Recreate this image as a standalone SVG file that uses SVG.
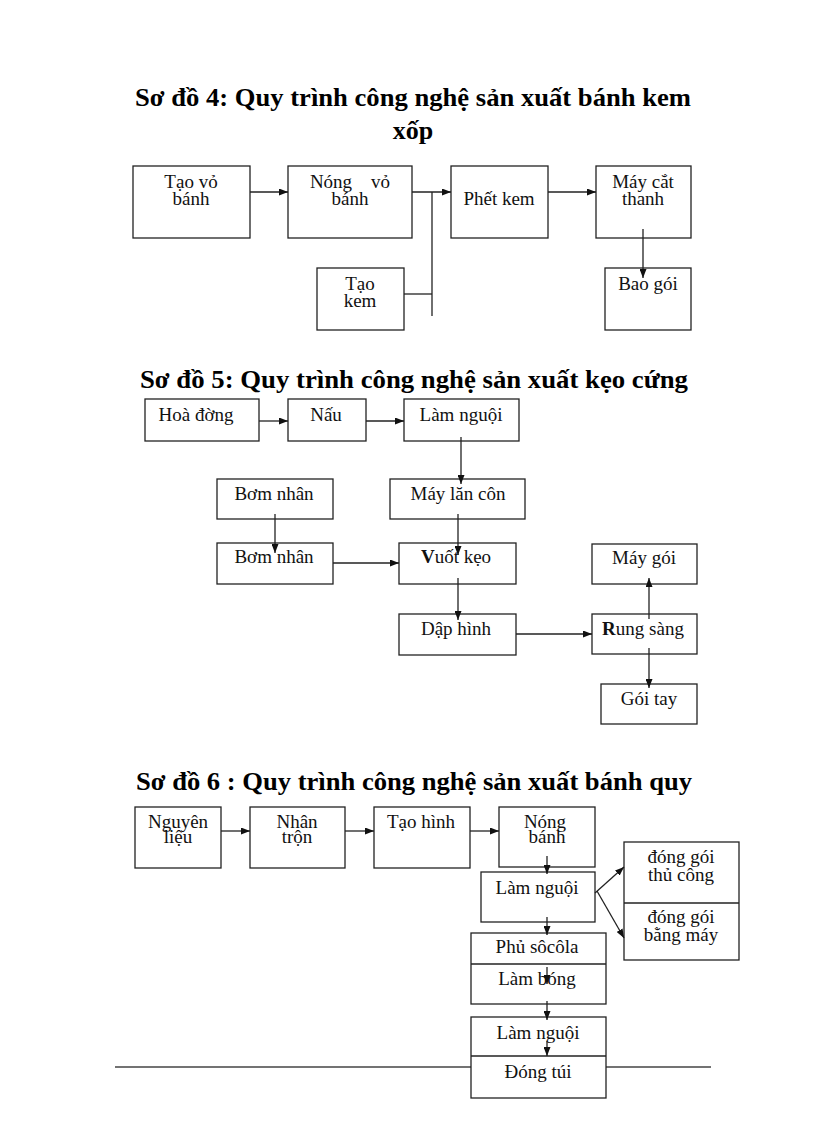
<svg xmlns="http://www.w3.org/2000/svg" width="816" height="1123" viewBox="0 0 816 1123">
<style>
.bg{fill:#fff}
.box{fill:#fff;stroke:#222;stroke-width:1.3}
.div{stroke:#222;stroke-width:1.3;fill:none}
.t{font-family:"Liberation Serif","Times New Roman",serif;font-size:19px;fill:#111;text-anchor:middle}
.title{font-family:"Liberation Serif","Times New Roman",serif;font-size:26px;font-weight:bold;fill:#000;text-anchor:middle}
.c{stroke:#222;stroke-width:1.3;fill:none;marker-end:url(#ah)}
.p{stroke:#222;stroke-width:1.3;fill:none}
.rule{stroke:#444;stroke-width:1.5}
</style>
<defs>
<marker id="ah" markerUnits="userSpaceOnUse" markerWidth="9" markerHeight="7" refX="9" refY="3.5" orient="auto">
<path d="M0,0 L9,3.5 L0,7 z" fill="#111"/>
</marker>
</defs>
<rect class="bg" x="0" y="0" width="816" height="1123"/>

<g id="titles">
<text class="title" x="413" y="106" textLength="556" lengthAdjust="spacingAndGlyphs">Sơ đồ 4: Quy trình công nghệ sản xuất bánh kem</text>
<text class="title" x="413" y="139">xốp</text>
<text class="title" x="414" y="388" textLength="548" lengthAdjust="spacingAndGlyphs">Sơ đồ 5: Quy trình công nghệ sản xuất kẹo cứng</text>
<text class="title" x="414" y="790" textLength="556" lengthAdjust="spacingAndGlyphs">Sơ đồ 6 : Quy trình công nghệ sản xuất bánh quy</text>
</g>

<g id="rule">
<line class="rule" x1="115" y1="1067" x2="471" y2="1067"/>
<line class="rule" x1="606" y1="1067" x2="711" y2="1067"/>
</g>

<!-- Diagram 4 nodes -->
<g id="n4-tao-vo-banh"><rect class="box" x="133" y="166" width="117" height="72"/><text class="t" x="191" y="188">Tạo vỏ<tspan x="191" dy="17">bánh</tspan></text></g>
<g id="n4-nong-vo-banh"><rect class="box" x="288" y="166" width="124" height="72"/><text class="t" x="350" y="188" xml:space="preserve">Nóng    vỏ<tspan x="350" dy="17">bánh</tspan></text></g>
<g id="n4-phet-kem"><rect class="box" x="451" y="166" width="97" height="72"/><text class="t" x="499" y="205">Phết kem</text></g>
<g id="n4-may-cat-thanh"><rect class="box" x="596" y="166" width="95" height="72"/><text class="t" x="643" y="188">Máy cắt<tspan x="643" dy="17">thanh</tspan></text></g>
<g id="n4-tao-kem"><rect class="box" x="317" y="268" width="87" height="62"/><text class="t" x="360" y="290">Tạo<tspan x="360" dy="17">kem</tspan></text></g>
<g id="n4-bao-goi"><rect class="box" x="605" y="268" width="86" height="62"/><text class="t" x="648" y="290">Bao gói</text></g>

<!-- Diagram 5 nodes -->
<g id="n5-hoa-duong"><rect class="box" x="145" y="399" width="114" height="42"/><text class="t" x="196" y="421">Hoà đờng</text></g>
<g id="n5-nau"><rect class="box" x="288" y="399" width="78" height="42"/><text class="t" x="326" y="421">Nấu</text></g>
<g id="n5-lam-nguoi"><rect class="box" x="404" y="399" width="115" height="42"/><text class="t" x="461" y="421">Làm nguội</text></g>
<g id="n5-bom-nhan-1"><rect class="box" x="217" y="479" width="116" height="40"/><text class="t" x="274" y="500">Bơm nhân</text></g>
<g id="n5-may-lan-con"><rect class="box" x="390" y="479" width="135" height="40"/><text class="t" x="458" y="500">Máy lăn côn</text></g>
<g id="n5-bom-nhan-2"><rect class="box" x="217" y="543" width="116" height="41"/><text class="t" x="274" y="563">Bơm nhân</text></g>
<g id="n5-vuot-keo"><rect class="box" x="399" y="543" width="117" height="41"/><text class="t" x="456" y="563"><tspan font-weight="bold">V</tspan>uốt kẹo</text></g>
<g id="n5-dap-hinh"><rect class="box" x="399" y="614" width="117" height="41"/><text class="t" x="456" y="635">Dập hình</text></g>
<g id="n5-may-goi"><rect class="box" x="592" y="544" width="105" height="40"/><text class="t" x="644" y="564">Máy gói</text></g>
<g id="n5-rung-sang"><rect class="box" x="592" y="614" width="105" height="40"/><text class="t" x="643" y="635"><tspan font-weight="bold">R</tspan>ung sàng</text></g>
<g id="n5-goi-tay"><rect class="box" x="601" y="684" width="96" height="40"/><text class="t" x="649" y="705">Gói tay</text></g>

<!-- Diagram 6 nodes -->
<g id="n6-nguyen-lieu"><rect class="box" x="135" y="807" width="86" height="61"/><text class="t" x="178" y="828">Nguyên<tspan x="178" dy="15">liệu</tspan></text></g>
<g id="n6-nhan-tron"><rect class="box" x="250" y="807" width="95" height="61"/><text class="t" x="297" y="828">Nhân<tspan x="297" dy="15">trộn</tspan></text></g>
<g id="n6-tao-hinh"><rect class="box" x="374" y="807" width="96" height="61"/><text class="t" x="421" y="828">Tạo hình</text></g>
<g id="n6-nong-banh"><rect class="box" x="499" y="807" width="96" height="60"/><text class="t" x="545" y="828">Nóng<tspan x="547" dy="15">bánh</tspan></text></g>
<g id="n6-lam-nguoi-1"><rect class="box" x="481" y="872" width="114" height="50"/><text class="t" x="537" y="894">Làm nguội</text></g>
<g id="n6-dong-goi"><rect class="box" x="624" y="842" width="115" height="118"/><line class="div" x1="624" y1="903" x2="739" y2="903"/><text class="t" x="681" y="863">đóng gói<tspan x="681" dy="18">thủ công</tspan></text><text class="t" x="681" y="923">đóng gói<tspan x="681" dy="18">bằng máy</tspan></text></g>
<g id="n6-phu-socola-lam-bong"><rect class="box" x="471" y="933" width="135" height="71"/><line class="div" x1="471" y1="964" x2="606" y2="964"/><text class="t" x="537" y="953">Phủ sôcôla</text><text class="t" x="537" y="985">Làm bóng</text></g>
<g id="n6-lam-nguoi-dong-tui"><rect class="box" x="471" y="1017" width="135" height="81"/><line class="div" x1="471" y1="1056" x2="606" y2="1056"/><text class="t" x="538" y="1039">Làm nguội</text><text class="t" x="538" y="1078">Đóng túi</text></g>

<!-- Connectors -->
<g id="connectors">
<line class="c" x1="250" y1="192" x2="288" y2="192"/>
<line class="c" x1="412" y1="192" x2="451" y2="192"/>
<line class="p" x1="432" y1="192" x2="432" y2="316"/>
<line class="p" x1="404" y1="294" x2="432" y2="294"/>
<line class="c" x1="548" y1="192" x2="596" y2="192"/>
<line class="c" x1="643" y1="229" x2="643" y2="278"/>
<line class="c" x1="259" y1="421" x2="288" y2="421"/>
<line class="c" x1="366" y1="421" x2="404" y2="421"/>
<line class="c" x1="461" y1="437" x2="461" y2="484"/>
<line class="c" x1="275" y1="514" x2="275" y2="553"/>
<line class="c" x1="458" y1="514" x2="458" y2="555"/>
<line class="c" x1="333" y1="563" x2="399" y2="563"/>
<line class="c" x1="458" y1="578" x2="458" y2="620"/>
<line class="c" x1="516" y1="634" x2="592" y2="634"/>
<line class="c" x1="649" y1="619" x2="649" y2="578"/>
<line class="c" x1="649" y1="648" x2="649" y2="688"/>
<line class="c" x1="221" y1="831" x2="250" y2="831"/>
<line class="c" x1="345" y1="831" x2="374" y2="831"/>
<line class="c" x1="470" y1="831" x2="499" y2="831"/>
<line class="c" x1="547" y1="856" x2="547" y2="874"/>
<line class="c" x1="595" y1="893" x2="624" y2="867"/>
<line class="c" x1="597" y1="891" x2="624" y2="938"/>
<line class="c" x1="547" y1="917" x2="547" y2="935"/>
<line class="c" x1="547" y1="967" x2="547" y2="984"/>
<line class="c" x1="547" y1="1001" x2="547" y2="1020"/>
<line class="c" x1="547" y1="1041" x2="547" y2="1056"/>
</g>
</svg>
